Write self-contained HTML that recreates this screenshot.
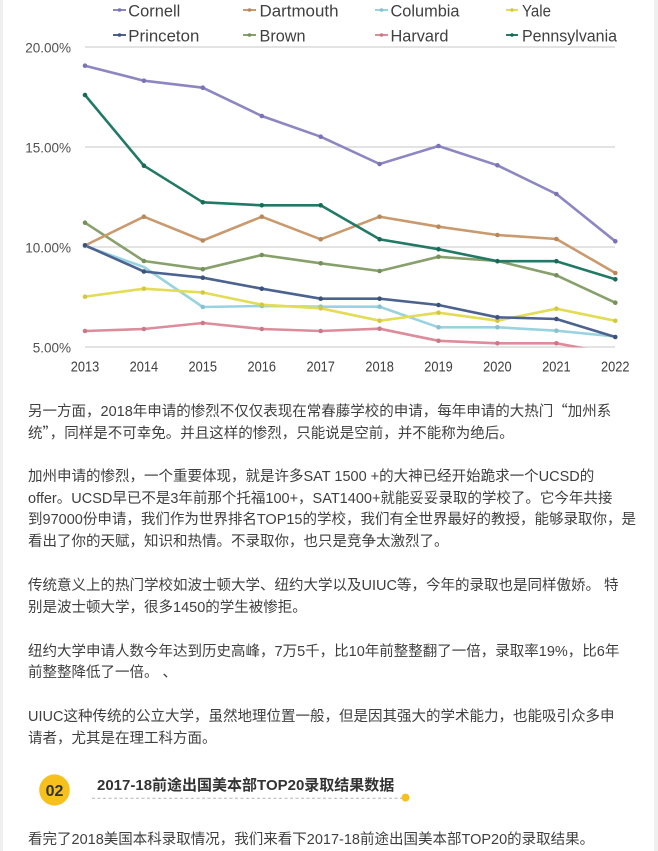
<!DOCTYPE html>
<html>
<head>
<meta charset="utf-8">
<style>
  html,body{margin:0;padding:0;}
  body{width:658px;height:851px;position:relative;overflow:hidden;background:#fff;
       font-family:"Liberation Sans","Noto Sans CJK SC",sans-serif;}
  .edgeL{position:absolute;left:0;top:0;width:3px;height:851px;background:#efefef;}
  .edgeR{position:absolute;left:654px;top:0;width:4px;height:851px;background:#efefef;}
  .ln{position:absolute;left:28px;white-space:nowrap;font-size:14.5px;line-height:22px;height:22px;color:#3f3f3f;}
  .q{font-family:"Noto Sans CJK SC",sans-serif;}
  svg{position:absolute;left:0;top:0;}
</style>
</head>
<body>
<div class="edgeL"></div>
<div class="edgeR"></div>

<svg width="658" height="380" viewBox="0 0 658 380">
  <defs>
    <clipPath id="plot"><rect x="0" y="0" width="658" height="347.5"/></clipPath>
  </defs>
  <!-- gridlines -->
  <g stroke="#d2d2d2" stroke-width="1.3">
    <line x1="85" y1="47" x2="615" y2="47"/>
    <line x1="85" y1="147" x2="615" y2="147"/>
    <line x1="85" y1="247" x2="615" y2="247"/>
    <line x1="85" y1="347" x2="615" y2="347"/>
  </g>
  <!-- y labels -->
  <g font-family="Liberation Sans, sans-serif" font-size="13.5" fill="#505050" text-anchor="end">
    <text x="71" y="52.5">20.00%</text>
    <text x="71" y="152.5">15.00%</text>
    <text x="71" y="252.5">10.00%</text>
    <text x="71" y="352.5">5.00%</text>
  </g>
  <!-- x labels -->
  <g font-family="Liberation Sans, sans-serif" font-size="15" fill="#404040" text-anchor="middle">
    <text x="85" y="371.5" textLength="28.5" lengthAdjust="spacingAndGlyphs">2013</text>
    <text x="143.9" y="371.5" textLength="28.5" lengthAdjust="spacingAndGlyphs">2014</text>
    <text x="202.8" y="371.5" textLength="28.5" lengthAdjust="spacingAndGlyphs">2015</text>
    <text x="261.8" y="371.5" textLength="28.5" lengthAdjust="spacingAndGlyphs">2016</text>
    <text x="320.7" y="371.5" textLength="28.5" lengthAdjust="spacingAndGlyphs">2017</text>
    <text x="379.6" y="371.5" textLength="28.5" lengthAdjust="spacingAndGlyphs">2018</text>
    <text x="438.5" y="371.5" textLength="28.5" lengthAdjust="spacingAndGlyphs">2019</text>
    <text x="497.4" y="371.5" textLength="28.5" lengthAdjust="spacingAndGlyphs">2020</text>
    <text x="556.4" y="371.5" textLength="28.5" lengthAdjust="spacingAndGlyphs">2021</text>
    <text x="615.3" y="371.5" textLength="28.5" lengthAdjust="spacingAndGlyphs">2022</text>
  </g>

  <!-- series -->
  <g fill="none" stroke-width="2.6" stroke-linejoin="round" stroke-linecap="round" clip-path="url(#plot)">
    <polyline stroke="#dd8c9b" points="85,331 143.9,329 202.8,323 261.8,329 320.7,331 379.6,328.7 438.5,340.8 497.4,343.3 556.4,343.3 615.3,354"/>
    <polyline stroke="#9ad3df" points="85,246 143.9,267 202.8,307 261.8,306 320.7,306.7 379.6,306.7 438.5,327.3 497.4,327.3 556.4,330.7 615.3,336.5"/>
    <polyline stroke="#e3dc55" points="85,296.7 143.9,288.7 202.8,292.5 261.8,304.7 320.7,308.3 379.6,320.7 438.5,312.7 497.4,320.7 556.4,308.7 615.3,320.8"/>
    <polyline stroke="#4c6390" points="85,245.3 143.9,271.5 202.8,277.7 261.8,288.7 320.7,298.7 379.6,298.7 438.5,305 497.4,317.3 556.4,319 615.3,337"/>
    <polyline stroke="#88a06b" points="85,222.7 143.9,261 202.8,269.2 261.8,255 320.7,263.3 379.6,271 438.5,256.8 497.4,261 556.4,275.3 615.3,302.7"/>
    <polyline stroke="#c99a6e" points="85,245.5 143.9,216.7 202.8,240.5 261.8,216.7 320.7,239.3 379.6,216.7 438.5,226.7 497.4,235 556.4,239 615.3,273"/>
    <polyline stroke="#8c86c2" points="85,65.7 143.9,80.7 202.8,87.7 261.8,116 320.7,136.7 379.6,164 438.5,146 497.4,165.3 556.4,194 615.3,241.3"/>
    <polyline stroke="#227a66" points="85,95 143.9,165.7 202.8,202.3 261.8,205.3 320.7,205.3 379.6,239.3 438.5,249.2 497.4,261.2 556.4,261.2 615.3,279.3"/>
  </g>
  <!-- markers -->
  <g clip-path="url(#plot)">
    <g fill="#c97a88">
      <circle cx="85" cy="331" r="2.3"/><circle cx="143.9" cy="329" r="2.3"/><circle cx="202.8" cy="323" r="2.3"/><circle cx="261.8" cy="329" r="2.3"/><circle cx="320.7" cy="331" r="2.3"/><circle cx="379.6" cy="328.7" r="2.3"/><circle cx="438.5" cy="340.8" r="2.3"/><circle cx="497.4" cy="343.3" r="2.3"/><circle cx="556.4" cy="343.3" r="2.3"/>
    </g>
    <g fill="#86c2cf">
      <circle cx="85" cy="246" r="2.3"/><circle cx="202.8" cy="307" r="2.3"/><circle cx="261.8" cy="306" r="2.3"/><circle cx="320.7" cy="306.7" r="2.3"/><circle cx="379.6" cy="306.7" r="2.3"/><circle cx="438.5" cy="327.3" r="2.3"/><circle cx="497.4" cy="327.3" r="2.3"/><circle cx="556.4" cy="330.7" r="2.3"/>
    </g>
    <g fill="#d2c940">
      <circle cx="85" cy="296.7" r="2.3"/><circle cx="143.9" cy="288.7" r="2.3"/><circle cx="202.8" cy="292.5" r="2.3"/><circle cx="261.8" cy="304.7" r="2.3"/><circle cx="320.7" cy="308.3" r="2.3"/><circle cx="379.6" cy="320.7" r="2.3"/><circle cx="438.5" cy="312.7" r="2.3"/><circle cx="497.4" cy="320.7" r="2.3"/><circle cx="556.4" cy="308.7" r="2.3"/><circle cx="615.3" cy="320.8" r="2.3"/>
    </g>
    <g fill="#3d527c">
      <circle cx="85" cy="245.3" r="2.3"/><circle cx="143.9" cy="271.5" r="2.3"/><circle cx="202.8" cy="277.7" r="2.3"/><circle cx="261.8" cy="288.7" r="2.3"/><circle cx="320.7" cy="298.7" r="2.3"/><circle cx="379.6" cy="298.7" r="2.3"/><circle cx="438.5" cy="305" r="2.3"/><circle cx="497.4" cy="317.3" r="2.3"/><circle cx="556.4" cy="319" r="2.3"/><circle cx="615.3" cy="337" r="2.3"/>
    </g>
    <g fill="#75905a">
      <circle cx="85" cy="222.7" r="2.3"/><circle cx="143.9" cy="261" r="2.3"/><circle cx="202.8" cy="269.2" r="2.3"/><circle cx="261.8" cy="255" r="2.3"/><circle cx="320.7" cy="263.3" r="2.3"/><circle cx="379.6" cy="271" r="2.3"/><circle cx="438.5" cy="256.8" r="2.3"/><circle cx="556.4" cy="275.3" r="2.3"/><circle cx="615.3" cy="302.7" r="2.3"/>
    </g>
    <g fill="#b8875a">
      <circle cx="143.9" cy="216.7" r="2.3"/><circle cx="202.8" cy="240.5" r="2.3"/><circle cx="261.8" cy="216.7" r="2.3"/><circle cx="320.7" cy="239.3" r="2.3"/><circle cx="379.6" cy="216.7" r="2.3"/><circle cx="438.5" cy="226.7" r="2.3"/><circle cx="497.4" cy="235" r="2.3"/><circle cx="556.4" cy="239" r="2.3"/><circle cx="615.3" cy="273" r="2.3"/>
    </g>
    <g fill="#7a73b5">
      <circle cx="85" cy="65.7" r="2.3"/><circle cx="143.9" cy="80.7" r="2.3"/><circle cx="202.8" cy="87.7" r="2.3"/><circle cx="261.8" cy="116" r="2.3"/><circle cx="320.7" cy="136.7" r="2.3"/><circle cx="379.6" cy="164" r="2.3"/><circle cx="438.5" cy="146" r="2.3"/><circle cx="497.4" cy="165.3" r="2.3"/><circle cx="556.4" cy="194" r="2.3"/><circle cx="615.3" cy="241.3" r="2.3"/>
    </g>
    <g fill="#1a6a58">
      <circle cx="85" cy="95" r="2.3"/><circle cx="143.9" cy="165.7" r="2.3"/><circle cx="202.8" cy="202.3" r="2.3"/><circle cx="261.8" cy="205.3" r="2.3"/><circle cx="320.7" cy="205.3" r="2.3"/><circle cx="379.6" cy="239.3" r="2.3"/><circle cx="438.5" cy="249.2" r="2.3"/><circle cx="497.4" cy="261.2" r="2.3"/><circle cx="556.4" cy="261.2" r="2.3"/><circle cx="615.3" cy="279.3" r="2.3"/>
    </g>
  </g>

  <!-- legend -->
  <g stroke-width="2">
    <line x1="113" y1="10" x2="126" y2="10" stroke="#8c86c2"/><circle cx="119.5" cy="10" r="1.8" fill="#7a73b5"/>
    <line x1="243" y1="10" x2="256" y2="10" stroke="#c99a6e"/><circle cx="249.5" cy="10" r="1.8" fill="#b8875a"/>
    <line x1="375" y1="10" x2="388" y2="10" stroke="#9ad3df"/><circle cx="381.5" cy="10" r="1.8" fill="#86c2cf"/>
    <line x1="506" y1="10" x2="518" y2="10" stroke="#e3dc55"/><circle cx="512" cy="10" r="1.8" fill="#d2c940"/>
    <line x1="113" y1="35" x2="126" y2="35" stroke="#4c6390"/><circle cx="119.5" cy="35" r="1.8" fill="#3d527c"/>
    <line x1="243" y1="35" x2="256" y2="35" stroke="#88a06b"/><circle cx="249.5" cy="35" r="1.8" fill="#75905a"/>
    <line x1="375" y1="35" x2="388" y2="35" stroke="#dd8c9b"/><circle cx="381.5" cy="35" r="1.8" fill="#c97a88"/>
    <line x1="506" y1="35" x2="518" y2="35" stroke="#227a66"/><circle cx="512" cy="35" r="1.8" fill="#1a6a58"/>
  </g>
  <g font-family="Liberation Sans, sans-serif" font-size="17" fill="#404040">
    <text x="128.3" y="16.3" textLength="52" lengthAdjust="spacingAndGlyphs">Cornell</text>
    <text x="259.5" y="16.3" textLength="79" lengthAdjust="spacingAndGlyphs">Dartmouth</text>
    <text x="390.5" y="16.3" textLength="69" lengthAdjust="spacingAndGlyphs">Columbia</text>
    <text x="522" y="16.3" textLength="29" lengthAdjust="spacingAndGlyphs">Yale</text>
    <text x="128.3" y="41.5" textLength="71" lengthAdjust="spacingAndGlyphs">Princeton</text>
    <text x="259.5" y="41.5" textLength="46" lengthAdjust="spacingAndGlyphs">Brown</text>
    <text x="390.5" y="41.5" textLength="58" lengthAdjust="spacingAndGlyphs">Harvard</text>
    <text x="522" y="41.5" textLength="95" lengthAdjust="spacingAndGlyphs">Pennsylvania</text>
  </g>
</svg>

<!-- article text -->
<div class="ln" style="top:400px;">另一方面，2018年申请的惨烈不仅仅表现在常春藤学校的申请，每年申请的大热门<span class="q">“</span>加州系</div>
<div class="ln" style="top:422px;">统<span class="q">”</span>，同样是不可幸免。并且这样的惨烈，只能说是空前，并不能称为绝后。</div>

<div class="ln" style="top:465.7px;">加州申请的惨烈，一个重要体现，就是许多SAT 1500 +的大神已经开始跪求一个UCSD的</div>
<div class="ln" style="top:487.6px;">offer。UCSD早已不是3年前那个托福100+，SAT1400+就能妥妥录取的学校了。它今年共接</div>
<div class="ln" style="top:509.4px;">到97000份申请，我们作为世界排名TOP15的学校，我们有全世界最好的教授，能够录取你，是</div>
<div class="ln" style="top:531.3px;">看出了你的天赋，知识和热情。不录取你，也只是竞争太激烈了。</div>

<div class="ln" style="top:575px;">传统意义上的热门学校如波士顿大学、纽约大学以及UIUC等，今年的录取也是同样傲娇。 特</div>
<div class="ln" style="top:596.8px;">别是波士顿大学，很多1450的学生被惨拒。</div>

<div class="ln" style="top:640.5px;">纽约大学申请人数今年达到历史高峰，7万5千，比10年前整整翻了一倍，录取率19%，比6年</div>
<div class="ln" style="top:662.4px;">前整整降低了一倍。 、</div>

<div class="ln" style="top:706.1px;">UIUC这种传统的公立大学，虽然地理位置一般，但是因其强大的学术能力，也能吸引众多申</div>
<div class="ln" style="top:728px;">请者，尤其是在理工科方面。</div>

<!-- section heading -->
<svg width="658" height="851" viewBox="0 0 658 851" style="pointer-events:none;">
  <ellipse cx="54.5" cy="790" rx="15.3" ry="15.6" fill="#f6c01d"/>
  <text x="54.5" y="795.8" text-anchor="middle" font-family="Liberation Sans, sans-serif" font-weight="bold" font-size="16" fill="#333">02</text>
  <line x1="92" y1="798.3" x2="402" y2="798.3" stroke="#b4b4b4" stroke-width="1" stroke-dasharray="3,2.5"/>
  <circle cx="405.5" cy="797.6" r="4" fill="#f6c01d"/>
</svg>
<div class="ln" style="top:775px;left:97px;font-size:15px;font-weight:bold;color:#333;">2017-18前途出国美本部TOP20录取结果数据</div>

<div class="ln" style="top:828.8px;">看完了2018美国本科录取情况，我们来看下2017-18前途出国美本部TOP20的录取结果。</div>
</body>
</html>
